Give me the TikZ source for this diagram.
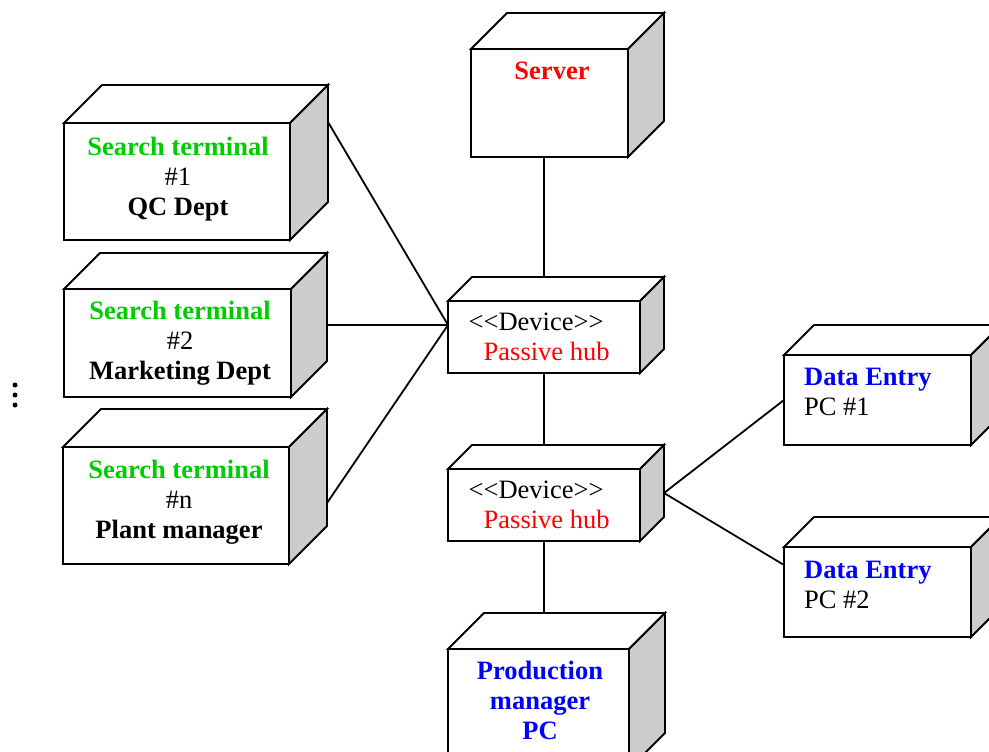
\documentclass[tikz,border=0pt]{standalone}
\usepackage{fontspec}
\setmainfont{Liberation Serif}
\usetikzlibrary{calc,backgrounds}
\definecolor{termgreen}{RGB}{0,204,0}
\definecolor{sidegray}{RGB}{204,204,204}
\newcommand{\diagfont}{\fontsize{26.5}{30}\selectfont}
% top and right face of a box node, #2 = depth
\newcommand{\boxsides}[2]{%
  \draw[boxline, fill=white] (#1.north west) -- ++(#2,-#2) -- ($(#1.north east)+(#2,-#2)$) -- (#1.north east) -- cycle;
  \draw[boxline, fill=sidegray] (#1.north east) -- ($(#1.north east)+(#2,-#2)$) -- ($(#1.south east)+(#2,-#2)$) -- (#1.south east) -- cycle;
}
\tikzset{
  boxline/.style={draw, line width=1.8pt},
  face/.style={boxline, fill=white, rectangle, outer sep=0pt, inner sep=0pt},
  txt/.style={font=\diagfont, inner sep=0pt},
  wire/.style={line width=1.8pt}
}

\begin{document}
\begin{tikzpicture}[x=1pt,y=-1pt]
\useasboundingbox (0,0) rectangle (989,752);
\clip (0,0) rectangle (989,752);

% server
\node[face, minimum width=157pt, minimum height=108pt] (server) at (549.5,103) {};
\boxsides{server}{36}
\node[txt, anchor=base, text=red, font=\diagfont\bfseries] (servertxt) at (552,80) {Server};

% search terminals
\node[face, minimum width=226pt, minimum height=117pt] (term1) at (177,181.5) {};
\boxsides{term1}{38}
\node[face, minimum width=227pt, minimum height=108pt] (term2) at (177.5,343) {};
\boxsides{term2}{36}
\node[face, minimum width=226pt, minimum height=117pt] (term3) at (176,505.5) {};
\boxsides{term3}{38}

\node[txt, align=center] (term1txt) at (178,179) {\textcolor{termgreen}{\bfseries Search terminal}\\\#1\\\textbf{QC Dept}};
\node[txt, align=center] (term2txt) at (180,343) {\textcolor{termgreen}{\bfseries Search terminal}\\\#2\\\textbf{Marketing Dept}};
\node[txt, align=center] (term3txt) at (179,502) {\textcolor{termgreen}{\bfseries Search terminal}\\\#n\\\textbf{Plant manager}};

% hubs
\node[face, minimum width=192pt, minimum height=72pt] (hub1) at (544,337) {};
\boxsides{hub1}{24}
\node[face, minimum width=192pt, minimum height=72pt] (hub2) at (544,505) {};
\boxsides{hub2}{24}

\node[txt, anchor=base west, align=left] (hub1txt) at (468.5,360) {<\kern0pt<Device>\kern0pt>\\\hspace*{15pt}\textcolor{red}{Passive hub}};
\node[txt, anchor=base west, align=left] (hub2txt) at (468.5,528) {<\kern0pt<Device>\kern0pt>\\\hspace*{15pt}\textcolor{red}{Passive hub}};

% data entry PCs
\node[face, minimum width=187pt, minimum height=90pt] (de1) at (877.5,400) {};
\boxsides{de1}{30}
\node[face, minimum width=187pt, minimum height=90pt] (de2) at (877.5,592) {};
\boxsides{de2}{30}

\node[txt, anchor=base west, align=left] (de1txt) at (804,415) {\textcolor{blue}{\bfseries Data Entry}\\PC \#1};
\node[txt, anchor=base west, align=left] (de2txt) at (804,608) {\textcolor{blue}{\bfseries Data Entry}\\PC \#2};

% production manager
\node[face, minimum width=181pt, minimum height=120pt] (prod) at (538.5,709) {};
\boxsides{prod}{36}
\node[txt, anchor=base, align=center, text=blue, font=\diagfont\bfseries] (prodtxt) at (540,739) {Production\\manager\\PC};

% ends of the wires
\coordinate (hub1in) at ($(hub1.west)+(0,-12)$);
\coordinate (hub2out) at ($(hub2.east)+(24,-12)$);
\coordinate (t1out) at ($(term1.north east)+(38,-1)$);
\coordinate (t2out) at ($(term2.north east)+(36,36)$);
\coordinate (t3out) at ($(term3.north east)+(38,56)$);
\coordinate (de2in) at ($(de2.north west)+(0,18)$);

\begin{scope}[on background layer]
\draw[wire] (server.south -| hub1.north) -- (hub1.north);
\draw[wire] (hub1.south) -- (hub2.north);
\draw[wire] (hub2.south) -- (hub2.south |- prod.north);
\draw[wire] (t1out) -- (hub1in);
\draw[wire] (t2out) -- (hub1in);
\draw[wire] (t3out) -- (hub1in);
\draw[wire] (hub2out) -- (de1.west);
\draw[wire] (hub2out) -- (de2in);
\end{scope}

% more terminals
\foreach \y in {385,395,405}
  \fill (15,\y) circle (2.5);
\end{tikzpicture}
\end{document}
